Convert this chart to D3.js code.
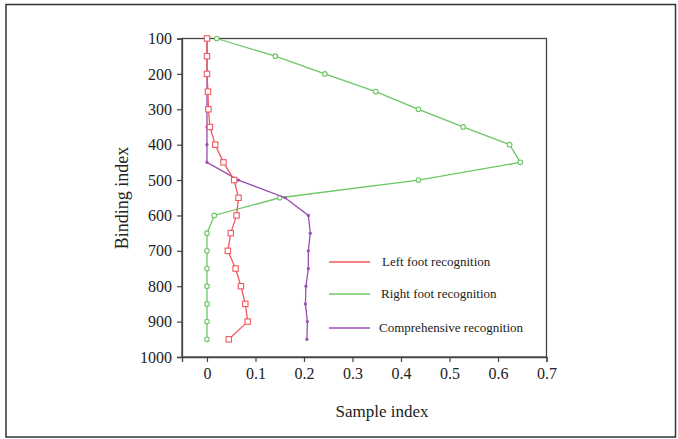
<!DOCTYPE html>
<html><head><meta charset="utf-8">
<script src="https://cdn.jsdelivr.net/npm/d3@7"></script>
<style>body{margin:0;background:#fff}svg{display:block}</style>
</head><body><svg id="c" width="678" height="439"></svg>
<script>
const bindingIndex = [100,150,200,250,300,350,400,450,500,550,600,650,700,750,800,850,900,950];
const leftFoot = [0,0,0,0.002,0.003,0.006,0.017,0.034,0.056,0.065,0.061,0.049,0.043,0.059,0.070,0.079,0.084,0.045];
const rightFoot = [0.02,0.141,0.243,0.348,0.436,0.528,0.624,0.646,0.436,0.150,0.015,0,0,0,0,0,0,0];
const comprehensive = [0,0,0,0,0,0,0,0,0.065,0.161,0.209,0.213,0.209,0.209,0.204,0.203,0.207,0.206];
const seriesNames = ["Left foot recognition","Right foot recognition","Comprehensive recognition"];
const xTicks = [0,0.1,0.2,0.3,0.4,0.5,0.6,0.7];
const yTicks = [100,200,300,400,500,600,700,800,900,1000];

const svg = d3.select("#c");
const font = "'Liberation Serif','Times New Roman',serif";
svg.append("rect").attr("x",6).attr("y",4.5).attr("width",669.5).attr("height",432.5)
  .attr("fill","none").attr("stroke","#333").attr("stroke-width",1.5);

const L=182, R=546.5, T=38.5, B=357;
const x = d3.scaleLinear().domain([-0.0515,0.7]).range([L,R]);
const y = d3.scaleLinear().domain([100,1000]).range([T,B]);

svg.append("rect").attr("x",L).attr("y",T).attr("width",R-L).attr("height",B-T)
  .attr("fill","none").attr("stroke","#444").attr("stroke-width",1.3);

const xa = svg.append("g").attr("transform",`translate(0,${B})`)
  .call(d3.axisBottom(x).tickValues(xTicks).tickFormat(d=>d===0?"0":d3.format(".1f")(d)).tickSizeOuter(0).tickSize(5).tickPadding(6));
const ya = svg.append("g").attr("transform",`translate(${L},0)`)
  .call(d3.axisLeft(y).tickValues(yTicks).tickFormat(d3.format("d")).tickSizeOuter(0).tickSize(5).tickPadding(5));
[xa,ya].forEach(a=>{
  a.attr("font-family",font).attr("font-size",16);
  a.select(".domain").attr("stroke","#444").attr("stroke-width",1.3);
  a.selectAll(".tick line").attr("stroke","#444").attr("stroke-width",1.2);
  a.selectAll("text").attr("fill","#222");
});

svg.append("text").attr("x",382).attr("y",417).attr("text-anchor","middle")
  .attr("font-family",font).attr("font-size",17).attr("fill","#222").text("Sample index");
svg.append("text").attr("transform","translate(128,198) rotate(-90)").attr("text-anchor","middle")
  .attr("font-family",font).attr("font-size",18).attr("fill","#222").text("Binding index");

const colors = ["#f05a5e","#6cc764","#9a4db3"];
const data = [leftFoot,rightFoot,comprehensive];
const line = d3.line().x(d=>x(d[0])).y(d=>y(d[1]));
[1,2,0].forEach(i=>{
  const pts = data[i].map((v,j)=>[v,bindingIndex[j]]);
  svg.append("path").attr("d",line(pts)).attr("fill","none").attr("stroke",colors[i]).attr("stroke-width",1.3);
  const g = svg.append("g");
  if(i===0){
    g.selectAll("rect").data(pts).join("rect")
      .attr("x",d=>x(d[0])-2.7).attr("y",d=>y(d[1])-2.7).attr("width",5.4).attr("height",5.4)
      .attr("fill","#fff").attr("stroke",colors[i]).attr("stroke-width",1.1);
  } else if(i===1){
    g.selectAll("circle").data(pts).join("circle")
      .attr("cx",d=>x(d[0])).attr("cy",d=>y(d[1])).attr("r",2.3)
      .attr("fill","#fff").attr("stroke",colors[i]).attr("stroke-width",1.1);
  } else {
    g.selectAll("circle").data(pts).join("circle")
      .attr("cx",d=>x(d[0])).attr("cy",d=>y(d[1])).attr("r",1.6)
      .attr("fill",colors[i]);
  }
});

const legY = [262,294,328];
seriesNames.forEach((n,i)=>{
  svg.append("line").attr("x1",329).attr("x2",370).attr("y1",legY[i]).attr("y2",legY[i])
    .attr("stroke",colors[i]).attr("stroke-width",1.4);
  svg.append("text").attr("x",i===0?382:(i===1?381:379)).attr("y",legY[i]+1).attr("dominant-baseline","middle")
    .attr("font-family",font).attr("font-size",13).attr("fill","#222").text(n);
});
</script></body></html>
